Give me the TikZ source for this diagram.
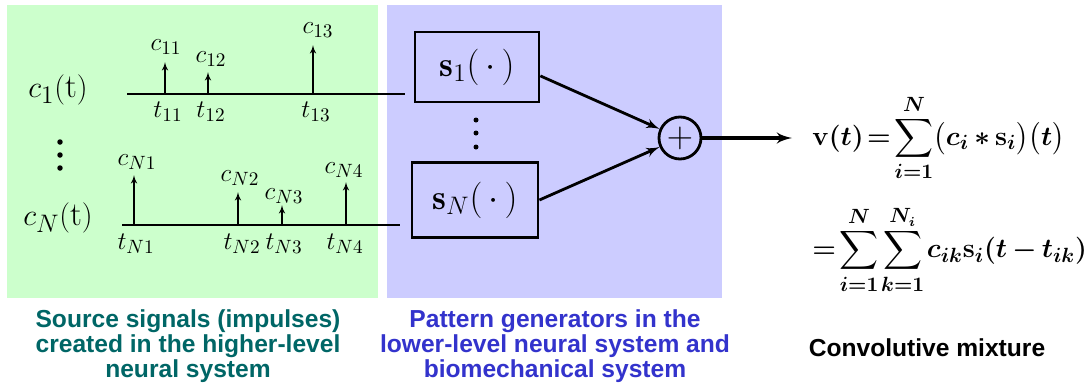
\documentclass[tikz,border=0pt]{standalone}
\usepackage{amsmath}
\usepackage{fontspec}
\newfontfamily\capfont{Liberation Sans}
\usepackage{tikz}
\usetikzlibrary{arrows}

\definecolor{srcback}{RGB}{204,255,204}
\definecolor{genback}{RGB}{204,204,255}
\definecolor{srctext}{RGB}{0,102,102}
\definecolor{gentext}{RGB}{51,51,204}

% tighter spacing for the mixture formulas
\newcommand{\tightmath}{\thickmuskip=2mu plus 1mu\medmuskip=3mu\thinmuskip=1.5mu}

\begin{document}
\begin{tikzpicture}[x=0.02cm,y=-0.02cm,>=latex',
		sigline/.style={line width=0.75pt},
		impulse/.style={->,line width=0.7pt},
		siglab/.style={font=\fontsize{19}{22}\selectfont},
		clab/.style={inner sep=0pt,font=\fontsize{15}{18}\selectfont},
		genbox/.style={draw,line width=1.6pt,minimum width=2.48cm,minimum height=1.4cm,
			font=\fontsize{20}{22}\selectfont},
		sumnode/.style={draw,circle,line width=1.6pt,minimum size=0.84cm,inner sep=0pt,
			font=\fontsize{22}{22}\selectfont},
		feed/.style={->,line width=1.6pt},
		dotmark/.style={fill,circle,inner sep=0pt,minimum size=0.11cm},
		eqn/.style={anchor=west,inner sep=0pt,scale=1.07,
			font=\fontsize{15}{18}\selectfont\boldmath\tightmath},
		caption/.style={align=center,font=\capfont\bfseries\fontsize{14}{12.8}\selectfont}]

	\useasboundingbox (0,0) rectangle (1090,389);
	\fill[srcback] (7,5) rectangle (378,298);
	\fill[genback] (387,5) rectangle (722,298);

	% source signals
	\node[siglab] (lab1) at (58,90) {$c_1(\mathrm{t})$};
	\node[siglab] (labN) at (58,218) {$c_N(\mathrm{t})$};
	\node[dotmark] (ld1) at (60,142) {};
	\node[dotmark] (ld2) at (60,155) {};
	\node[dotmark] (ld3) at (60,168) {};

	\coordinate (a1) at (127,94);
	\coordinate (e1) at (405,94);
	\coordinate (aN) at (122,225);
	\coordinate (eN) at (400,225);
	\draw[sigline] (a1) -- (e1);
	\draw[sigline] (aN) -- (eN);

	% impulses of c_1
	\coordinate (b11) at (165,94);  \coordinate (p11) at (165,62);
	\coordinate (b12) at (208,94);  \coordinate (p12) at (208,72);
	\coordinate (b13) at (313,94);  \coordinate (p13) at (313,45);
	\node[clab] (c11) at (166,47) {$c_{11}$};
	\node[clab] (c12) at (211,59) {$c_{12}$};
	\node[clab] (c13) at (318,30) {$c_{13}$};
	\node[clab] (t11) at (168,112) {$t_{11}$};
	\node[clab] (t12) at (211,112) {$t_{12}$};
	\node[clab] (t13) at (316,112) {$t_{13}$};

	% impulses of c_N
	\coordinate (bN1) at (134,225);  \coordinate (pN1) at (134,175);
	\coordinate (bN2) at (238,225);  \coordinate (pN2) at (238,192);
	\coordinate (bN3) at (282,225);  \coordinate (pN3) at (282,205);
	\coordinate (bN4) at (346,225);  \coordinate (pN4) at (346,182);
	\node[clab] (cN1) at (137,162) {$c_{N1}$};
	\node[clab] (cN2) at (240,178) {$c_{N2}$};
	\node[clab] (cN3) at (284,196) {$c_{N3}$};
	\node[clab] (cN4) at (344,170) {$c_{N4}$};
	\node[clab] (tN1) at (136,244) {$t_{N1}$};
	\node[clab] (tN2) at (242,244) {$t_{N2}$};
	\node[clab] (tN3) at (284,244) {$t_{N3}$};
	\node[clab] (tN4) at (345,244) {$t_{N4}$};

	\path[impulse]
		(b11) edge (p11)
		(b12) edge (p12)
		(b13) edge (p13)
		(bN1) edge (pN1)
		(bN2) edge (pN2)
		(bN3) edge (pN3)
		(bN4) edge (pN4);

	% pattern generators and summing point
	\node[genbox] (s1) at (477,67) {$\mathbf{s}_1(\,\cdot\,)$};
	\node[genbox,minimum width=2.52cm,minimum height=1.5cm] (sN) at (475,200) {$\mathbf{s}_N(\,\cdot\,)$};
	\node[dotmark,minimum size=0.1cm] (md1) at (476,120) {};
	\node[dotmark,minimum size=0.1cm] (md2) at (476,133) {};
	\node[dotmark,minimum size=0.1cm] (md3) at (476,147) {};
	\node[sumnode] (sum) at (680,138) {$+$};

	\path[feed]
		(s1.-8) edge (sum)
		(sN.east) edge (sum);

	% convolutive mixture
	\node[eqn] (v) at (812,138) {$\displaystyle \mathbf{v}(t)=\sum_{i=1}^{N}\bigl(c_i*\mathbf{s}_i\bigr)\bigl(t\bigr)$};
	\node[eqn] (v2) at (812,250) {$\displaystyle =\sum_{i=1}^{N}\sum_{k=1}^{N_i}c_{ik}\mathbf{s}_i(t-t_{ik})$};
	\draw[feed,line width=2pt,shorten >=0.4cm] (sum) -- (v.west);

	\node[caption,text=srctext] (srccap) at (188,346) {Source signals (impulses)\\created in the higher-level\\neural system};
	\node[caption,text=gentext] (gencap) at (555,346) {Pattern generators in the\\lower-level neural system and\\biomechanical system};
	\node[caption] (mixcap) at (927,348) {Convolutive mixture};
\end{tikzpicture}
\end{document}
